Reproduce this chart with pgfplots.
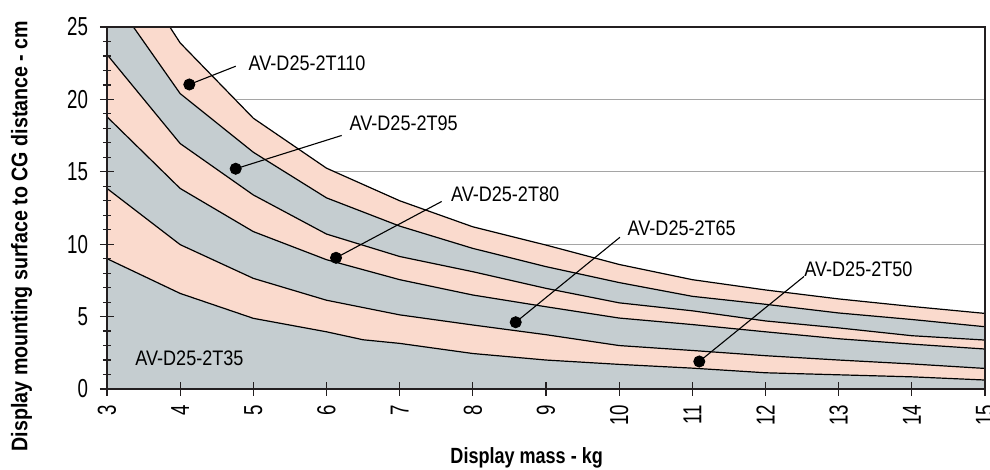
\documentclass[border=0pt]{standalone}
\usepackage{fontspec}
\setmainfont{Liberation Sans}
\newfontfamily\tickfont{Liberation Sans}[FakeStretch=0.72]
\newfontfamily\notefont{Liberation Sans}[FakeStretch=0.86]
\newfontfamily\xlabfont{Liberation Sans}[FakeStretch=0.82]
\newfontfamily\ylabfont{Liberation Sans}[FakeStretch=0.87]
\usepackage{pgfplots}
\pgfplotsset{compat=1.18}

\definecolor{salmon}{RGB}{250,218,205}
\definecolor{slate}{RGB}{197,205,208}
\definecolor{gridgray}{RGB}{165,165,165}
\definecolor{axisblack}{RGB}{35,31,32}

% upper edge of each band, display mass (kg) vs distance (cm)
\pgfplotstableread{
x   t50   t65   t80   t95   t110
3   13.85 18.8  23.1  27.6  31.7
4   9.97  13.85 16.95 20.4  23.9
5   7.64  10.87 13.4  16.35 18.7
6   6.13  8.93  10.7  13.2  15.25
7   5.12  7.55  9.15  11.25 13.0
8   4.42  6.49  8.1   9.71  11.2
9   3.75  5.68  6.95  8.45  9.94
10  3.0   4.9   5.95  7.35  8.6
11  2.66  4.45  5.4   6.4   7.55
12  2.3   3.95  4.7   5.85  6.84
13  2.0   3.47  4.22  5.25  6.22
14  1.73  3.1   3.68  4.8   5.7
15  1.42  2.76  3.38  4.3   5.22
}\bands

\pgfplotstableread{
x    t35
3    9.0
4    6.6
5    4.88
6    3.95
6.5  3.4
7    3.15
8    2.45
9    2.0
10   1.7
11   1.44
12   1.12
13   0.98
14   0.84
15   0.62
}\lowest

\begin{document}
\begin{tikzpicture}[
  edge/.style={black, line width=0.6pt},
  leader/.style={black, line width=0.55pt},
  dot/.style={only marks, mark=*, mark size=2.8pt, black},
  note/.style={font=\notefont\fontsize{10.5}{10.5}\selectfont, inner sep=0pt, anchor=west},
  grid line/.style={gridgray, line width=0.5pt},
]
\begin{axis}[
  at={(0,0)}, anchor=south west,
  scale only axis, width=439pt, height=181pt,
  xmin=3, xmax=15, ymin=0, ymax=25,
  xtick={3,...,15}, ytick={0,5,...,25},
  minor y tick num=4,
  xtick pos=bottom, ytick pos=left,
  tick align=center,
  major tick length=7pt, minor tick length=4pt,
  every tick/.style={axisblack, line width=0.6pt},
  axis line style={axisblack, line width=1pt},
  axis on top,
  /pgf/number format/assume math mode=true,
  tick label style={font=\tickfont\fontsize{13}{13}\selectfont},
  xticklabel style={rotate=90, anchor=east, xshift=-1pt},
  yticklabel style={xshift=-2.5pt},
  xlabel={Display mass - kg},
  ylabel={Display mounting surface to CG distance - cm},
  every axis x label/.style={at={(rel axis cs:0.478,0)}, anchor=center,
    yshift=-34.5pt, font=\xlabfont\bfseries\fontsize{11}{11}\selectfont},
  every axis y label/.style={at={(rel axis cs:-0.0974,0.4227)}, rotate=90,
    anchor=center, font=\ylabfont\bfseries\fontsize{11.3}{11.3}\selectfont},
]
% horizontal grid, kept under the bands
\addplot[grid line] coordinates {(3,5) (15,5)};
\addplot[grid line] coordinates {(3,10) (15,10)};
\addplot[grid line] coordinates {(3,15) (15,15)};
\addplot[grid line] coordinates {(3,20) (15,20)};

% bands, widest first
\addplot[fill=salmon, draw=none] table[x=x, y=t110] {\bands} \closedcycle;
\addplot[fill=slate,  draw=none] table[x=x, y=t95]  {\bands} \closedcycle;
\addplot[fill=salmon, draw=none] table[x=x, y=t80]  {\bands} \closedcycle;
\addplot[fill=slate,  draw=none] table[x=x, y=t65]  {\bands} \closedcycle;
\addplot[fill=salmon, draw=none] table[x=x, y=t50]  {\bands} \closedcycle;
\addplot[fill=slate,  draw=none] table[x=x, y=t35]  {\lowest} \closedcycle;

\addplot[edge] table[x=x, y=t110] {\bands};
\addplot[edge] table[x=x, y=t95]  {\bands};
\addplot[edge] table[x=x, y=t80]  {\bands};
\addplot[edge] table[x=x, y=t65]  {\bands};
\addplot[edge] table[x=x, y=t50]  {\bands};
\addplot[edge] table[x=x, y=t35]  {\lowest};

% callouts
\addplot[leader] coordinates {(4.125,21.03) (4.759,22.29)};
\addplot[leader] coordinates {(4.759,15.21) (6.208,17.51)};
\addplot[leader] coordinates {(6.13,9.06) (7.574,12.95)};
\addplot[leader] coordinates {(8.586,4.61) (10.011,10.48)};
\addplot[leader] coordinates {(11.095,1.9) (12.526,7.77)};
\addplot[dot] coordinates {(4.125,21.03) (4.759,15.21) (6.13,9.06) (8.586,4.61) (11.095,1.9)};

\node[note] at (axis cs:4.931,22.5)  {AV-D25-2T110};
\node[note] at (axis cs:6.311,18.36) {AV-D25-2T95};
\node[note] at (axis cs:7.697,13.43) {AV-D25-2T80};
\node[note] at (axis cs:10.111,11.13) {AV-D25-2T65};
\node[note] at (axis cs:12.526,8.3)  {AV-D25-2T50};
\node[note] at (axis cs:3.383,2.15)  {AV-D25-2T35};
\end{axis}
\pgfresetboundingbox
\path[use as bounding box] (-53.5pt,-40.5pt) rectangle (441.5pt,194.5pt);
\end{tikzpicture}
\end{document}
